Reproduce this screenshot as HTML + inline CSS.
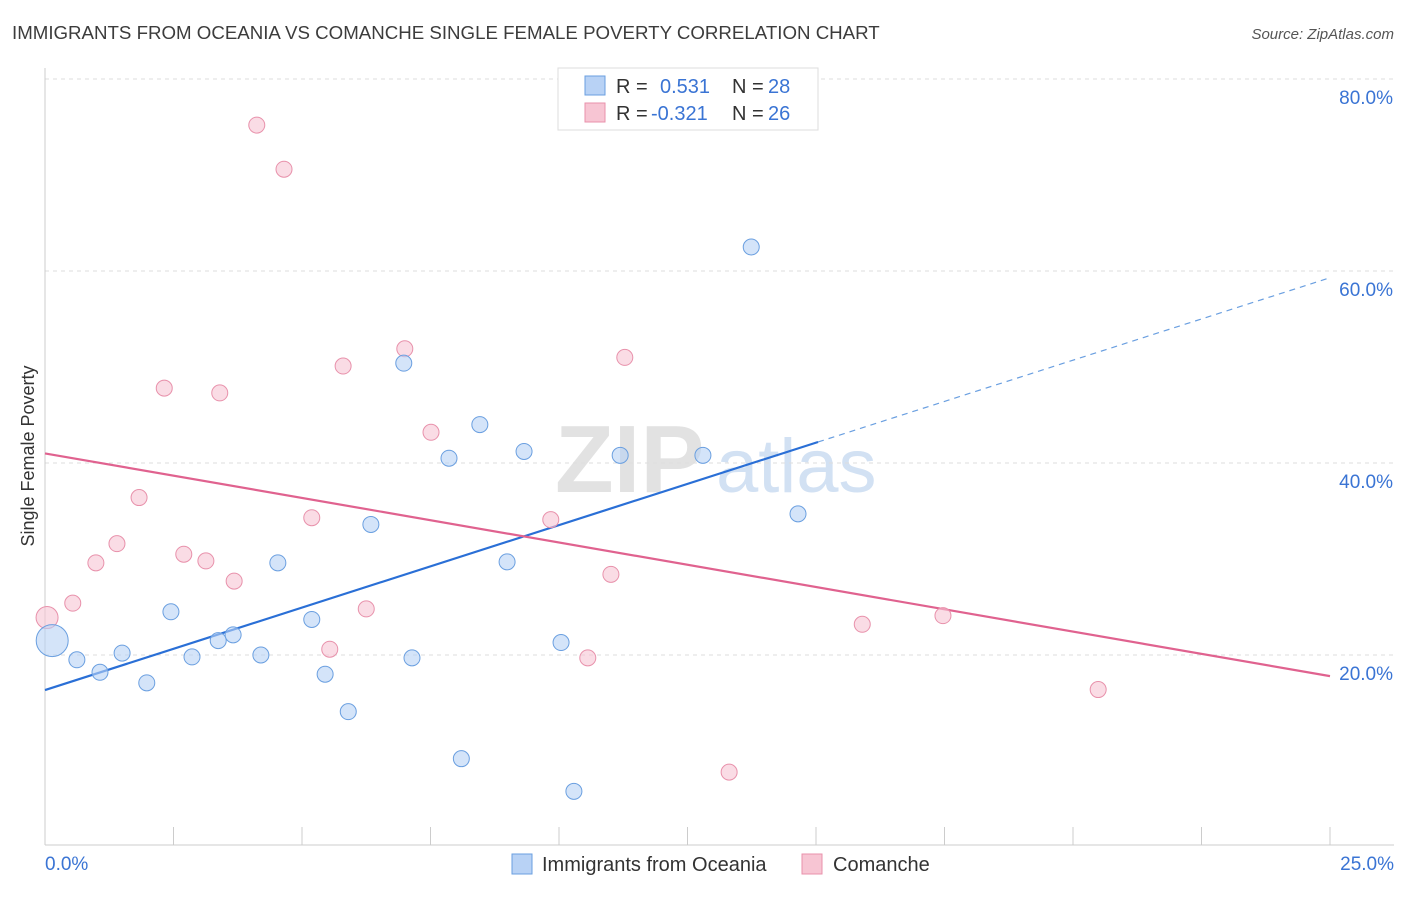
<!DOCTYPE html>
<html><head><meta charset="utf-8">
<style>
body{margin:0;background:#fff;font-family:"Liberation Sans",sans-serif;}
svg text{font-family:"Liberation Sans",sans-serif;}
</style></head>
<body>
<svg id="chart" width="1406" height="892" viewBox="0 0 1406 892" xmlns="http://www.w3.org/2000/svg">
<text x="12" y="39" font-size="18.7" fill="#3c3c3c">IMMIGRANTS FROM OCEANIA VS COMANCHE SINGLE FEMALE POVERTY CORRELATION CHART</text>
<text x="1394" y="39" font-size="15" fill="#555" font-style="italic" text-anchor="end">Source: ZipAtlas.com</text>
<g>
<text x="555" y="492" font-size="96" font-family="Liberation Serif" fill="#e2e2e2" font-weight="bold">ZIP</text>
<text x="716" y="492" font-size="76" fill="#d2e1f3">atlas</text>
</g>
<g id="grid"></g>
<g id="axes"></g>
<g id="lines"></g>
<g id="dots"></g>
<text transform="translate(34,456) rotate(-90)" font-size="18" fill="#333" text-anchor="middle">Single Female Poverty</text>
<g>
<rect x="558" y="68" width="260" height="62" fill="#fff" stroke="#ddd"/>
<rect x="585" y="76" width="20" height="19" fill="#b8d2f5" stroke="#6a9fe0"/>
<rect x="585" y="103" width="20" height="19" fill="#f7c5d3" stroke="#e891ab"/>
<text x="616" y="93" font-size="20" fill="#333">R =</text>
<text x="660" y="93" font-size="20" fill="#3a74d4">0.531</text>
<text x="732" y="93" font-size="20" fill="#333">N =</text>
<text x="768" y="93" font-size="20" fill="#3a74d4">28</text>
<text x="616" y="120" font-size="20" fill="#333">R =</text>
<text x="651" y="120" font-size="20" fill="#3a74d4">-0.321</text>
<text x="732" y="120" font-size="20" fill="#333">N =</text>
<text x="768" y="120" font-size="20" fill="#3a74d4">26</text>
</g>
<g>
<rect x="512" y="854" width="20" height="20" fill="#b8d2f5" stroke="#6a9fe0"/>
<text x="542" y="871" font-size="20" fill="#333">Immigrants from Oceania</text>
<rect x="802" y="854" width="20" height="20" fill="#f7c5d3" stroke="#e891ab"/>
<text x="833" y="871" font-size="20" fill="#333">Comanche</text>
</g>
</svg>
<script>
const blueX=[0.14,0.62,1.07,1.5,1.98,2.45,2.86,3.37,3.66,4.2,4.53,5.19,5.45,5.9,6.34,6.98,7.14,7.86,8.1,8.46,8.99,9.32,10.04,10.29,11.19,12.8,13.74,14.65];
const blueY=[21.5,19.5,18.2,20.2,17.1,24.5,19.8,21.5,22.1,20.0,29.6,23.7,18.0,14.1,33.6,50.4,19.7,40.5,9.2,44.0,29.7,41.2,21.3,5.8,40.8,40.8,62.5,34.7];
const pinkX=[0.04,0.54,0.99,1.4,1.83,2.32,2.7,3.13,3.4,3.68,4.12,4.65,5.19,5.54,5.8,6.25,7.0,7.51,9.84,10.56,11.01,11.28,13.31,15.9,17.47,20.49];
const pinkY=[23.9,25.4,29.6,31.6,36.4,47.8,30.5,29.8,47.3,27.7,75.2,70.6,34.3,20.6,50.1,24.8,51.9,43.2,34.1,19.7,28.4,51.0,7.8,23.2,24.1,16.4];
const yTicks=[20,40,60,80];
const yTickLabels=["20.0%","40.0%","60.0%","80.0%"];
const blueTrend=[16.35,59.3];
const blueSolidEnd=15.04;
const pinkTrend=[41.0,17.8];
const NS="http://www.w3.org/2000/svg";
const sx=v=>45+v/25*1285;
const sy=v=>847-v*9.6;
function mk(tag,attrs,parent){const e=document.createElementNS(NS,tag);for(const k in attrs)e.setAttribute(k,attrs[k]);document.getElementById(parent).appendChild(e);return e;}
yTicks.forEach((t,i)=>{
 const g=mk('line',{x1:45,x2:1394,y1:sy(t),y2:sy(t),stroke:'#ddd','stroke-dasharray':'4,4'},'grid');
 
 
 const l=mk('text',{x:1393,y:sy(t)+25,'font-size':19,fill:'#3a74d4','text-anchor':'end'},'axes');
 l.textContent=yTickLabels[i];
 
 
});
mk('line',{x1:45,x2:45,y1:68,y2:845,stroke:'#ccc'},'axes');
mk('line',{x1:45,x2:1394,y1:845,y2:845,stroke:'#ccc'},'axes');
for(let i=0;i<=10;i++){const t=mk('line',{x1:sx(i*2.5),x2:sx(i*2.5),y1:827,y2:845,stroke:'#ccc'},'axes');
 
 }
const x0=mk('text',{x:45,y:870,'font-size':19,fill:'#3a74d4'},'axes');x0.textContent='0.0%';


const x1=mk('text',{x:1394,y:870,'font-size':19,fill:'#3a74d4','text-anchor':'end'},'axes');x1.textContent='25.0%';


const by=v=>blueTrend[0]+(blueTrend[1]-blueTrend[0])*v/25;
const bl=mk('line',{x1:sx(0),y1:sy(by(0)),x2:sx(blueSolidEnd),y2:sy(by(blueSolidEnd)),stroke:'#2a6fd6','stroke-width':2.2},'lines');


const bd=mk('line',{x1:sx(blueSolidEnd),y1:sy(by(blueSolidEnd)),x2:sx(25),y2:sy(by(25)),stroke:'#6a9fe0','stroke-width':1.2,'stroke-dasharray':'6,5'},'lines');


const pl=mk('line',{x1:sx(0),y1:sy(pinkTrend[0]),x2:sx(25),y2:sy(pinkTrend[1]),stroke:'#e0628f','stroke-width':2.2},'lines');


pinkX.forEach((x,i)=>{const c=mk('circle',{cx:sx(x),cy:sy(pinkY[i]),r:i==0?11:8,fill:'#f7c5d3','fill-opacity':0.6,stroke:'#e891ab','stroke-width':1},'dots');
 
 });
blueX.forEach((x,i)=>{const c=mk('circle',{cx:sx(x),cy:sy(blueY[i]),r:i==0?16:8,fill:'#b8d2f5','fill-opacity':0.6,stroke:'#6a9fe0','stroke-width':1},'dots');
 
 });
</script>
</body></html>
